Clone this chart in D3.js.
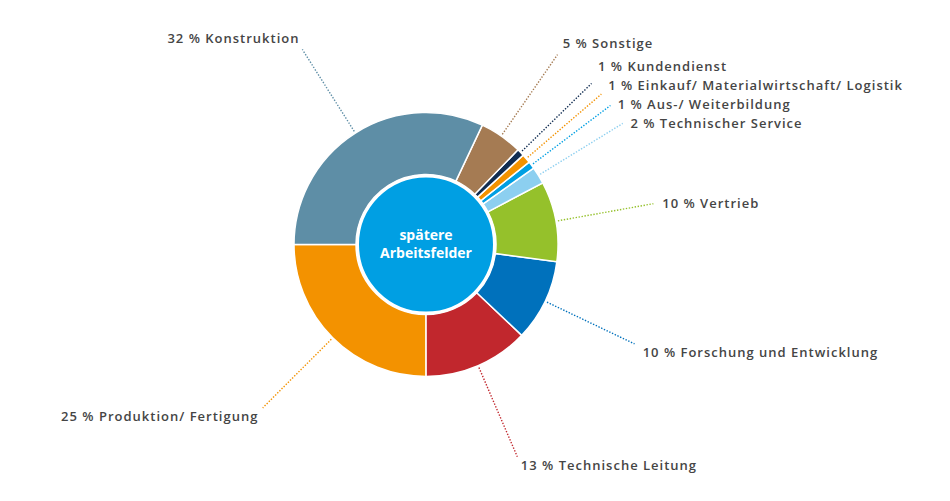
<!DOCTYPE html>
<html>
<head>
<meta charset="utf-8">
<script src="https://cdn.jsdelivr.net/npm/d3@7"></script>
<style>
  html, body { margin: 0; padding: 0; background: #fff; }
  svg text { font-family: "Open Sans", sans-serif; }
</style>
</head>
<body>
<main></main>
<script>
// Donut of later working fields (spätere Arbeitsfelder).
// Slices run counter-clockwise, starting at 9 o'clock.

const categories = [
  "Produktion/ Fertigung",
  "Technische Leitung",
  "Forschung und Entwicklung",
  "Vertrieb",
  "Technischer Service",
  "Aus-/ Weiterbildung",
  "Einkauf/ Materialwirtschaft/ Logistik",
  "Kundendienst",
  "Sonstige",
  "Konstruktion"
];
// rounded percentages as printed in the labels
const percentLabels = [25, 13, 10, 10, 2, 1, 1, 1, 5, 32];
// slice sizes (not quite the rounded ones)
const sliceValues = [25, 12.9, 10, 9.8, 2.1, 0.9, 1.1, 0.9, 5.25, 32];
const colours = [
  "#f39200", "#c1272d", "#0071bc", "#95c12b", "#8ccff0",
  "#009fe3", "#f39200", "#112d52", "#a57b53", "#5e8ea6"
];
const centreLabel = ["spätere", "Arbeitsfelder"];

let width = 950,
    height = 501,
    cx = 426,
    cy = 244.5,
    outerR = 132,
    innerR = 70,
    lineStartR = 134,
    lineEndR = 231;

let data = categories.map((c, i) => ({
  name: c, value: sliceValues[i], pct: percentLabels[i], colour: colours[i]
}));

let svg = d3.select("main").append("svg")
  .attr("width", width)
  .attr("height", height);

let g = svg.append("g").attr("transform", `translate(${cx},${cy})`);

let pie = d3.pie()
  .sort(null)
  .value(d => d.value)
  .startAngle(Math.PI * 1.5)
  .endAngle(-Math.PI * 0.5);

let arc = d3.arc().innerRadius(innerR).outerRadius(outerR);

let arcs = pie(data);

g.selectAll("path.slice").data(arcs)
  .enter().append("path")
  .attr("class", "slice")
  .attr("d", arc)
  .attr("fill", d => d.data.colour)
  .attr("stroke", "#fff")
  .attr("stroke-width", 1.5);

// centre disc
g.append("circle")
  .attr("r", 68.5)
  .attr("fill", "#009fe3")
  .attr("stroke", "#fff")
  .attr("stroke-width", 3);

g.selectAll("text.centre").data(centreLabel)
  .enter().append("text")
  .attr("class", "centre")
  .attr("text-anchor", "middle")
  .attr("fill", "#fff")
  .attr("font-weight", "bold")
  .attr("font-size", 14)
  .attr("x", 0)
  .attr("y", (d, i) => -5 + i * 18)
  .text(d => d);

// point on a circle of radius r at pie angle a (clockwise from 12 o'clock)
function polar(a, r) { return [r * Math.sin(a), -r * Math.cos(a)]; }

let labels = arcs.map(d => {
  let mid = (d.startAngle + d.endAngle) / 2;
  let p0 = polar(mid, lineStartR);
  let p1 = polar(mid, lineEndR);
  let s = Math.sin(mid), c = Math.cos(mid);
  let dy = c < 0 ? 9 : (c > 0.75 ? -11 : 0);
  return {
    d: d, mid: mid, p0: p0, p1: p1,
    right: s >= 0,
    x: p1[0] + (s >= 0 ? 9 * s : 2 + 9 * s),
    y: p1[1] + dy
  };
});

// keep the crowded labels on the right apart, pushing upward
let rightSide = labels.filter(l => l.right && Math.cos(l.mid) > 0).sort((a, b) => b.y - a.y);
for (let i = 1; i < rightSide.length; ++i) {
  rightSide[i].y = Math.min(rightSide[i].y, rightSide[i - 1].y - 19);
}

g.selectAll("line.leader").data(labels)
  .enter().append("line")
  .attr("class", "leader")
  .attr("x1", l => l.p0[0]).attr("y1", l => l.p0[1])
  .attr("x2", l => l.p1[0]).attr("y2", l => l.p1[1])
  .attr("stroke", l => l.d.data.colour)
  .attr("stroke-width", 1.4)
  .attr("stroke-dasharray", "1.4,1.6");

g.selectAll("text.label").data(labels)
  .enter().append("text")
  .attr("class", "label")
  .attr("x", l => l.x)
  .attr("y", l => l.y)
  .attr("dy", "0.35em")
  .attr("text-anchor", l => l.right ? "start" : "end")
  .attr("font-size", 13)
  .attr("font-weight", 600)
  .attr("letter-spacing", 1)
  .attr("fill", "#454545")
  .text(l => `${l.d.data.pct} % ${l.d.data.name}`);
</script>
</body>
</html>
